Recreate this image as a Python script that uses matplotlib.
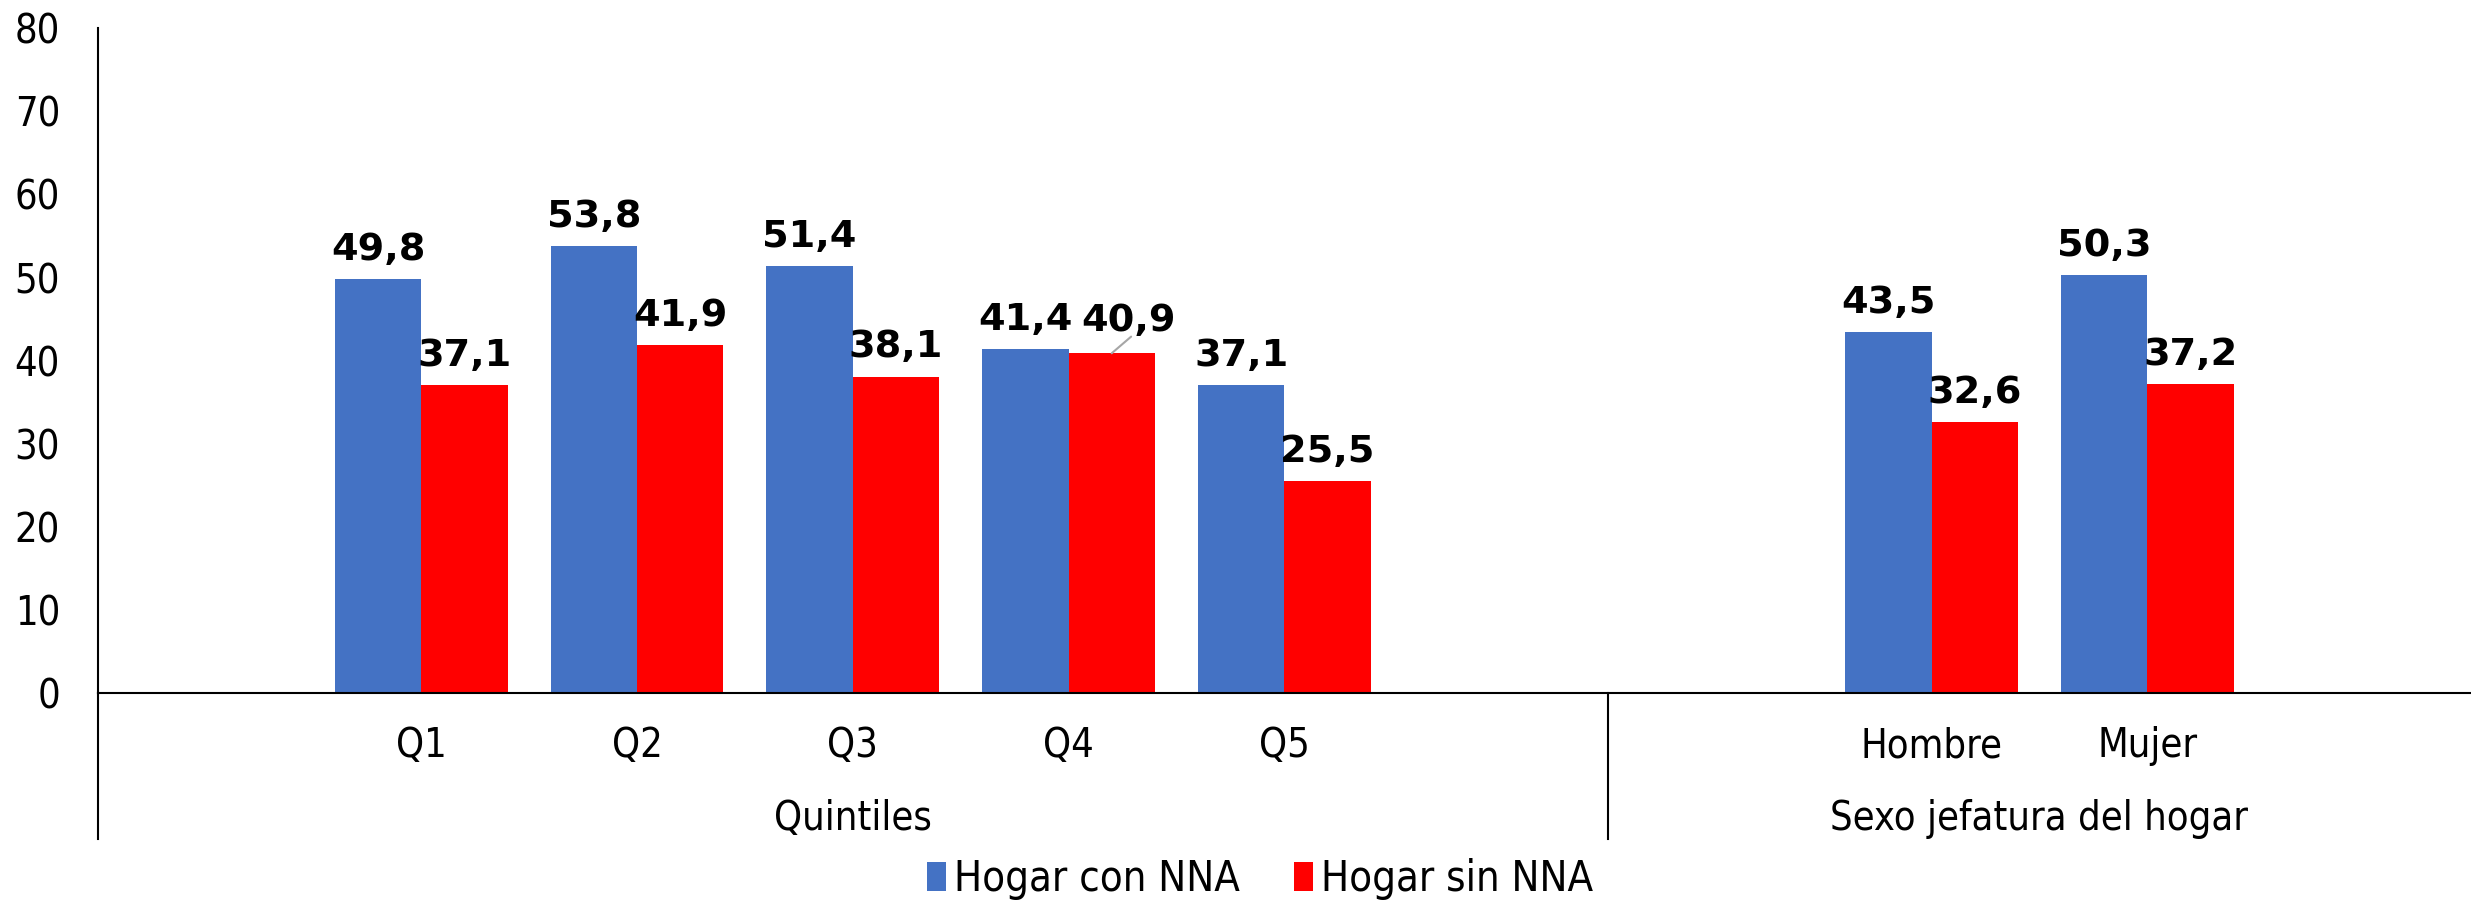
import numpy as np
import matplotlib.pyplot as plt
from matplotlib.lines import Line2D

plt.rcParams.update({'font.family': 'DejaVu Sans', 'font.stretch': 'condensed',
                     'font.size': 28.5})

categories = ['Q1', 'Q2', 'Q3', 'Q4', 'Q5', 'Hombre', 'Mujer']
slots      = [1, 2, 3, 4, 5, 8, 9]
con_nna    = [49.8, 53.8, 51.4, 41.4, 37.1, 43.5, 50.3]
sin_nna    = [37.1, 41.9, 38.1, 40.9, 25.5, 32.6, 37.2]
groups     = ['Quintiles', 'Sexo jefatura del hogar']
group_mid  = [3, 8.5]
divider    = 6.5

BLUE = '#4472C4'
RED  = '#FF0000'
LBL  = dict(fontsize=27.5, fontweight='bold', fontstretch='normal')

def fmt(v):
    return f'{v:.1f}'.replace('.', ',')

fig = plt.figure(figsize=(24.71, 9.01), dpi=100)
ax = fig.add_axes([0.0395, 0.2303, 0.9605, 0.7386])

x = np.array(slots, dtype=float)
w = 0.4
b1 = ax.bar(x - w/2, con_nna, w, color=BLUE, label='Hogar con NNA')
b2 = ax.bar(x + w/2, sin_nna, w, color=RED, label='Hogar sin NNA')

for xi, v in zip(x - w/2, con_nna):
    ax.annotate(fmt(v), (xi, v), xytext=(0, 8), textcoords='offset points',
                ha='center', va='bottom', **LBL)
for xi, v, c in zip(x + w/2, sin_nna, categories):
    if c == 'Q4':
        # label pushed aside, with a leader line
        ax.annotate(fmt(v), (xi, v), xytext=(12, 10), textcoords='offset points',
                    ha='center', va='bottom', **LBL)
        ax.annotate('', (xi, v), xytext=(xi + 0.09, v + 2.0),
                    arrowprops=dict(arrowstyle='-', color='#A6A6A6', lw=1.5,
                                    shrinkA=0, shrinkB=0))
    else:
        ax.annotate(fmt(v), (xi, v), xytext=(0, 8), textcoords='offset points',
                    ha='center', va='bottom', **LBL)

ax.set_xlim(-0.5, 10.5)
ax.set_ylim(0, 80)
ax.set_yticks(range(0, 81, 10))
ax.set_xticks([])
ax.tick_params(axis='y', length=0, pad=27)
for s in ['top', 'right']:
    ax.spines[s].set_visible(False)
ax.spines['left'].set_linewidth(1.5)
ax.spines['bottom'].set_linewidth(1.5)

trans = ax.get_xaxis_transform()
for xi, c in zip(x, categories):
    ax.text(xi, -0.079, c, transform=trans, ha='center', va='center')
for gm, g in zip(group_mid, groups):
    ax.text(gm, -0.188, g, transform=trans, ha='center', va='center')

ax.add_line(Line2D([-0.5, -0.5], [0, -0.218], transform=trans, color='black',
                   lw=1.5, clip_on=False))
ax.add_line(Line2D([divider, divider], [0, -0.218], transform=trans, color='black',
                   lw=1.5, clip_on=False))

fig.legend(handles=[b1, b2], loc='center', bbox_to_anchor=(0.51, 0.024), ncol=2,
           frameon=False, fontsize=30, handlelength=0.45, handleheight=0.7,
           handletextpad=0.2, columnspacing=1.3, borderpad=0)

plt.savefig('out.png', dpi=100)
